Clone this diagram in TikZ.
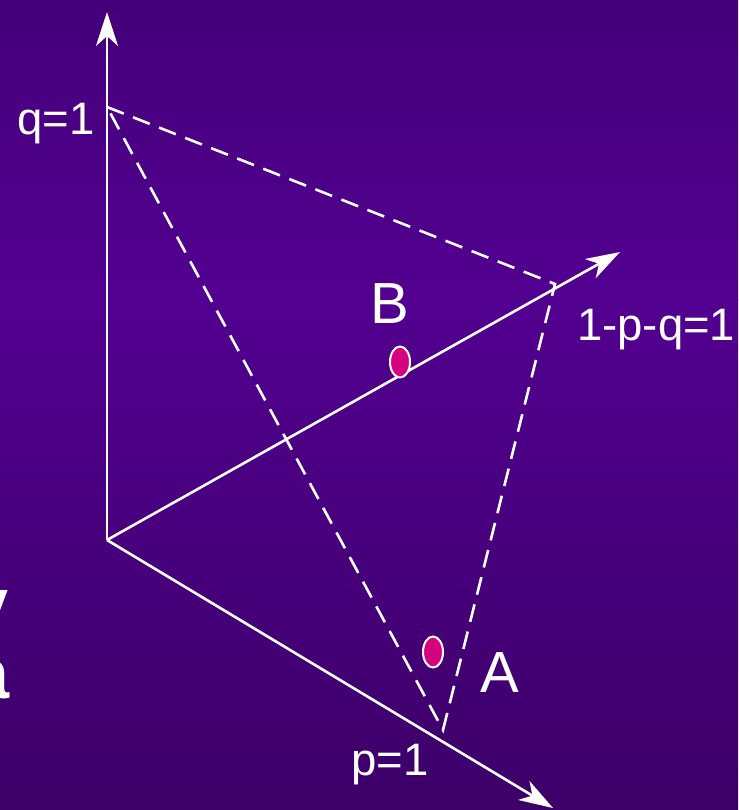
\documentclass[tikz,border=0pt]{standalone}
\usepackage{fontspec}
\setmainfont{Liberation Sans}
\newfontfamily\heavyfont{Liberation Sans Bold}
\usetikzlibrary{arrows.meta,shapes.geometric}
\definecolor{bgtop}{RGB}{68,0,122}
\definecolor{bgmid}{RGB}{82,0,144}
\definecolor{bgbot}{RGB}{60,0,104}
\definecolor{dotpink}{RGB}{212,0,128}

\begin{document}
\begin{tikzpicture}[x=1pt,y=-1pt,>={Stealth[length=34pt,width=22pt,inset=10pt]},
    axis/.style={draw=white,line width=2.6pt,->},
    guide/.style={draw=white,line width=2.6pt,dash pattern=on 18pt off 10pt},
    dot/.style={draw=white,line width=2pt,fill=dotpink,ellipse,minimum width=20pt,minimum height=31pt,inner sep=0pt},
    lbl/.style={text=white,inner sep=0pt,font=\fontsize{45.5}{46}\selectfont},
    big/.style={text=white,inner sep=0pt,font=\fontsize{58}{58}\selectfont},
    cut/.style={text=white,inner sep=0pt,font=\heavyfont\fontsize{72}{72}\selectfont}]
    \useasboundingbox (0,0) rectangle (738,810);
    \shade[top color=bgtop,bottom color=bgmid] (0,0) rectangle (738,300);
    \shade[top color=bgmid,bottom color=bgbot] (0,299) rectangle (738,810);
    \coordinate (o) at (107,540);
    \coordinate (qtip) at (107,12);
    \coordinate (rtip) at (620,252);
    \coordinate (ptip) at (553,808);
    \coordinate (q1) at (107,107);
    \coordinate (r1) at (555,284);
    \coordinate (p1) at (443,730);
    \draw[axis] (o)--(qtip);
    \draw[axis] (o)--(rtip);
    \draw[axis] (o)--(ptip);
    \draw[guide] (q1)--(r1)--(p1)--cycle;
    \node[dot] (dotB) at (400,362) {};
    \node[dot] (dotA) at (433,652) {};
    \node[lbl,anchor=base east] (qlab) at (95,135) {q=1};
    \node[lbl,anchor=base west] (rlab) at (577,340) {1-p-q=1};
    \node[lbl,anchor=base west] (plab) at (351,775) {p=1};
    \node[big,anchor=base west] (labA) at (480,692) {A};
    \node[big,anchor=base west] (labB) at (370,323) {B};
    \node[cut,anchor=base east] (cuty) at (9,628) {y};
    \node[cut,anchor=base east] (cuta) at (10,698) {a};
\end{tikzpicture}
\end{document}
